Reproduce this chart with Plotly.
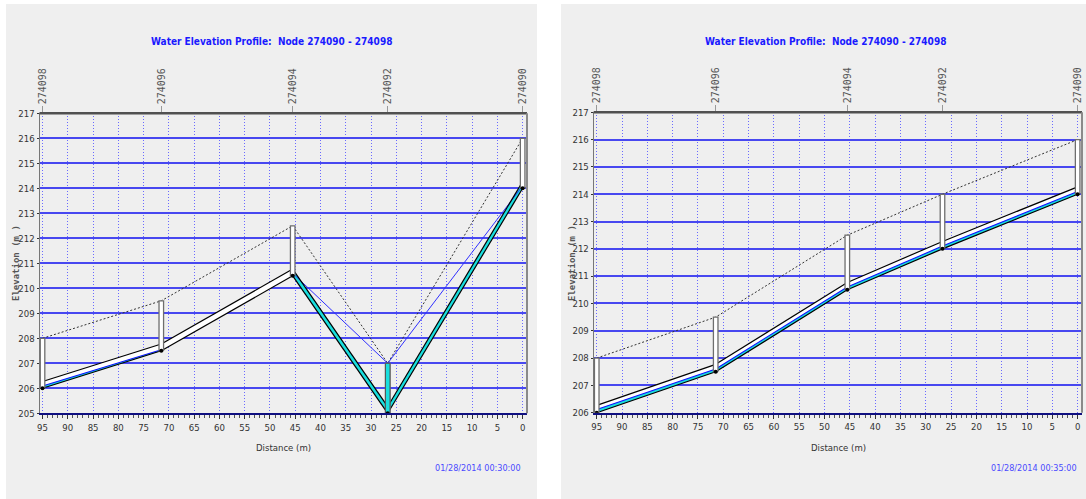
import plotly.graph_objects as go

# ---------------- data ----------------
nodes = ["274098", "274096", "274094", "274092", "274090"]
distance = [95, 71.5, 45.5, 26.7, 0]
pipe_diam = 0.27

# 00:30 snapshot (left)
ground_30 = [208.0, 209.5, 212.5, 207.0, 216.0]
invert_30 = [206.0, 207.5, 210.5, 205.0, 214.0]
head_30 = [206.08, 207.52, 210.6, 207.0, 214.1]
link_depth_a_30 = [0.09, 0.0, 0.27, 0.27]
link_depth_b_30 = [0.04, 0.0, 0.27, 0.27]

# 00:35 snapshot (right)
ground_35 = [208.0, 209.5, 212.5, 214.0, 216.0]
invert_35 = [206.0, 207.5, 210.5, 212.0, 214.0]
head_35 = [206.12, 207.6, 210.6, 212.1, 214.1]
link_depth_a_35 = [0.12, 0.1, 0.1, 0.1]
link_depth_b_35 = [0.1, 0.1, 0.1, 0.1]

yticks_30 = list(range(205, 218))
yticks_35 = list(range(206, 218))
title_text = "Water Elevation Profile:  Node 274090 - 274098"
stamps = ["01/28/2014 00:30:00", "01/28/2014 00:35:00"]

W, H = 1086, 499
def PX(p): return p / W
def PY(p): return 1 - p / H

NARROW = "Liberation Sans Narrow, Arial Narrow, DejaVu Sans Condensed, sans-serif"
MONO = "DejaVu Sans Mono, monospace"
CYAN = "#19dede"
BLUE = "#1010ff"

fig = go.Figure()

def add_panel(k, ground, invert, head, da, db):
    xa = "x" if k == 0 else "x2"
    ya = "y" if k == 0 else "y2"
    n = len(distance)
    bw = 0.45
    # ground line
    fig.add_trace(go.Scatter(x=distance, y=ground, mode="lines", xaxis=xa, yaxis=ya,
                             line=dict(color="#333333", width=1, dash="2px,2px"),
                             hoverinfo="skip", showlegend=False))
    # pipes
    for i in range(n - 1):
        xs = [distance[i], distance[i + 1]]
        inv = [invert[i], invert[i + 1]]
        crn = [invert[i] + pipe_diam, invert[i + 1] + pipe_diam]
        fig.add_trace(go.Scatter(x=xs + xs[::-1] + [xs[0]], y=inv + crn[::-1] + [inv[0]],
                                 mode="lines", fill="toself", fillcolor="white",
                                 line=dict(width=0), xaxis=xa, yaxis=ya,
                                 hoverinfo="skip", showlegend=False))
        wa, wb = da[i], db[i]
        if wa > 0 or wb > 0:
            top = [invert[i] + min(wa, pipe_diam), invert[i + 1] + min(wb, pipe_diam)]
            fig.add_trace(go.Scatter(x=xs + xs[::-1] + [xs[0]], y=inv + top[::-1] + [inv[0]],
                                     mode="lines", fill="toself", fillcolor=CYAN,
                                     line=dict(width=0), xaxis=xa, yaxis=ya,
                                     hoverinfo="skip", showlegend=False))
            if wa >= pipe_diam and wb >= pipe_diam:
                wl = [head[i], head[i + 1]]
                wcol, ww = "#3030ff", 1
            else:
                wl = top
                wcol, ww = BLUE, 1.1
            fig.add_trace(go.Scatter(x=xs, y=wl, mode="lines", xaxis=xa, yaxis=ya,
                                     line=dict(color=wcol, width=ww),
                                     hoverinfo="skip", showlegend=False))
        for yy in (inv, crn):
            fig.add_trace(go.Scatter(x=xs, y=yy, mode="lines", xaxis=xa, yaxis=ya,
                                     line=dict(color="black", width=1.2),
                                     hoverinfo="skip", showlegend=False))
    # nodes
    for i in range(n):
        d = distance[i]
        bx = [d - bw, d + bw, d + bw, d - bw, d - bw]
        by = [invert[i], invert[i], ground[i], ground[i], invert[i]]
        fig.add_trace(go.Scatter(x=bx, y=by, mode="lines", fill="toself", fillcolor="white",
                                 line=dict(color="#6e6e6e", width=1.3), xaxis=xa, yaxis=ya,
                                 hoverinfo="skip", showlegend=False))
        wt = min(head[i], ground[i])
        if wt - invert[i] > 0.3:
            wy = [invert[i], invert[i], wt, wt, invert[i]]
            fig.add_trace(go.Scatter(x=bx, y=wy, mode="lines", fill="toself", fillcolor=CYAN,
                                     line=dict(color="#555555", width=1), xaxis=xa, yaxis=ya,
                                     hoverinfo="skip", showlegend=False))
    fig.add_trace(go.Scatter(x=distance, y=invert, mode="markers", xaxis=xa, yaxis=ya,
                             marker=dict(color="black", size=4),
                             hoverinfo="skip", showlegend=False))
    # invisible trace that carries the top (node-name) axis
    fig.add_trace(go.Scatter(x=distance, y=invert, mode="lines", xaxis=("x3" if k == 0 else "x4"),
                             yaxis=ya, line=dict(width=0), opacity=0,
                             hoverinfo="skip", showlegend=False))

add_panel(0, ground_30, invert_30, head_30, link_depth_a_30, link_depth_b_30)
add_panel(1, ground_35, invert_35, head_35, link_depth_a_35, link_depth_b_35)

# plot-area pixel boxes
boxes = [(39.5, 527.0, 113.3, 413.3), (593.7, 1082.0, 112.3, 412.7)]
xrange_ = [95.6, -0.86]

def xaxis_cfg(b):
    return dict(domain=[PX(b[0]), PX(b[1])], range=xrange_, dtick=5, tick0=0,
                showgrid=True, gridcolor="#6a6aff", gridwidth=1, griddash="1px,2px",
                zeroline=False, showline=True, linecolor="#101080", linewidth=2,
                ticks="outside", ticklen=4, tickcolor="#333", automargin=False,
                minor=dict(dtick=1, ticks="outside", ticklen=3, tickcolor="#555", showgrid=False),
                tickfont=dict(family=NARROW, size=9.5, color="#333"))

def yaxis_cfg(b, rng, tv):
    return dict(domain=[PY(b[3]), PY(b[2])], range=rng, tickvals=tv,
                showgrid=True, gridcolor="#4848f0", gridwidth=2, automargin=False,
                zeroline=False, showline=True, linecolor="#777", linewidth=1,
                ticks="outside", ticklen=2, tickcolor="#333",
                tickfont=dict(family=NARROW, size=9.5, color="#333"))

def topaxis_cfg(b, ov, anchor):
    return dict(domain=[PX(b[0]), PX(b[1])], range=xrange_, overlaying=ov, side="top",
                anchor=anchor, tickvals=distance, ticktext=nodes, tickangle=-90,
                ticks="outside", ticklen=6, tickcolor="#999", showgrid=False,
                zeroline=False, showline=False, automargin=False,
                tickfont=dict(family=MONO, size=10, color="#555"))

fig.update_layout(
    width=W, height=H, margin=dict(l=0, r=0, t=0, b=0, pad=0), autosize=False,
    paper_bgcolor="white", plot_bgcolor="white", showlegend=False,
    xaxis=xaxis_cfg(boxes[0]), yaxis=yaxis_cfg(boxes[0], [205, 217], yticks_30),
    xaxis2=dict(xaxis_cfg(boxes[1]), anchor="y2"),
    yaxis2=dict(yaxis_cfg(boxes[1], [206, 217], yticks_35), anchor="x2"),
    xaxis3=topaxis_cfg(boxes[0], "x", "y"),
    xaxis4=topaxis_cfg(boxes[1], "x2", "y2"),
)

shapes = []
# grey panels
for (x0, x1) in [(6, 537), (561, 1086)]:
    shapes.append(dict(type="rect", xref="paper", yref="paper", x0=PX(x0), x1=PX(x1),
                       y0=PY(499), y1=PY(4), fillcolor="#efefef", line=dict(width=0),
                       layer="below"))
# frame accents (top and right edges)
for xd, yd in [("x domain", "y domain"), ("x2 domain", "y2 domain")]:
    shapes.append(dict(type="line", xref=xd, yref=yd, x0=0, x1=1, y0=1, y1=1,
                       line=dict(color="#505050", width=2.5)))
    shapes.append(dict(type="line", xref=xd, yref=yd, x0=1, x1=1, y0=0, y1=1,
                       line=dict(color="#8a8a8a", width=2)))
fig.update_layout(shapes=shapes)

ann = []
for k, (cx, dcx, ex, sx) in enumerate([(271, 283, 16, 523), (826, 838, 572, 1079)]):
    ann.append(dict(text="<b>" + title_text + "</b>", x=PX(cx), y=PY(42), xref="paper", yref="paper",
                    xanchor="center", yanchor="middle", showarrow=False,
                    font=dict(family=NARROW, size=10, color="#1a1aff")))
    ann.append(dict(text="Distance (m)", x=PX(dcx), y=PY(447), xref="paper", yref="paper",
                    xanchor="center", yanchor="middle", showarrow=False,
                    font=dict(family=NARROW, size=9.5, color="#333")))
    ann.append(dict(text="<b>Elevation (m )</b>", x=PX(ex), y=PY(263), xref="paper", yref="paper",
                    xanchor="center", yanchor="middle", showarrow=False, textangle=-90,
                    font=dict(family=MONO, size=9, color="#555")))
    ann.append(dict(text=stamps[k], x=PX(sx), y=PY(468), xref="paper", yref="paper",
                    xanchor="right", yanchor="middle", showarrow=False,
                    font=dict(family=NARROW, size=9, color="#4a4aff")))
fig.update_layout(annotations=ann)

fig.write_html("out.html", config={"displayModeBar": False},
               post_script="document.body.style.margin='0px';")
